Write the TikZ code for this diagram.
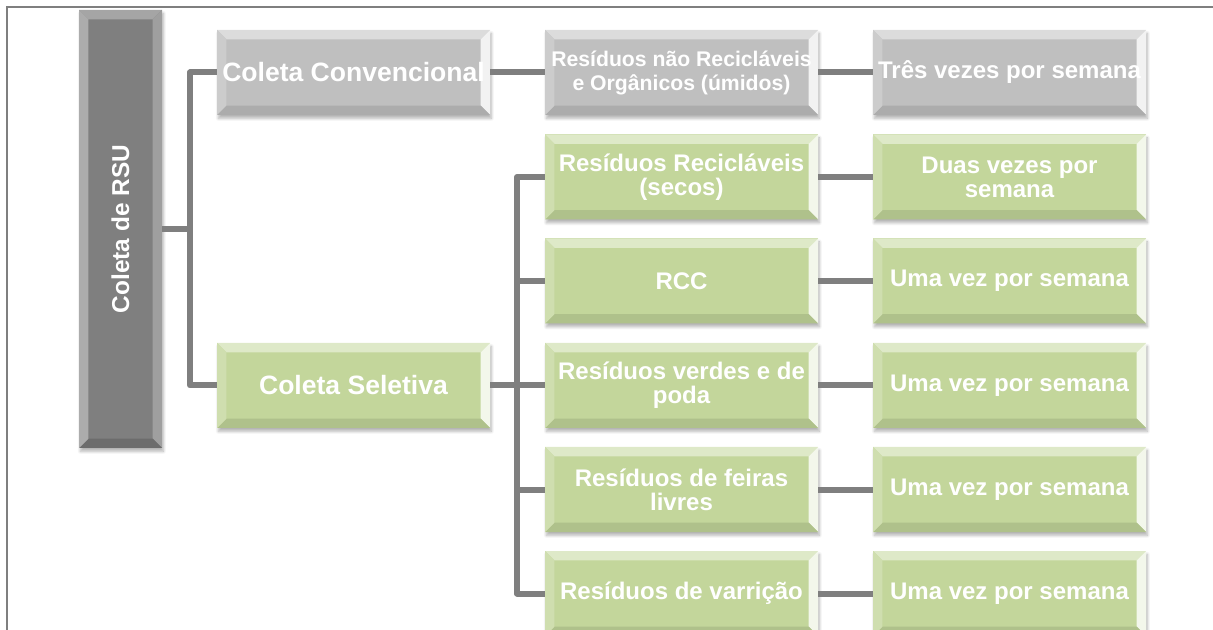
\documentclass[tikz,border=0pt]{standalone}
\usepackage{fontspec}
\setmainfont{Liberation Sans}
\usetikzlibrary{shadows.blur}
\definecolor{rsugray}{HTML}{7F7F7F}
\definecolor{convgray}{HTML}{BFBFBF}
\definecolor{selgreen}{HTML}{C3D69B}
\begin{document}
\begin{tikzpicture}
  [x=0.75pt,y=-0.75pt,
   conn/.style={draw=rsugray,line width=4.5pt,line join=round},
   bevel/.style n args={4}{path picture={
     \coordinate (bsw) at (path picture bounding box.south west);
     \coordinate (bne) at (path picture bounding box.north east);
     \fill[#1] (bne -| bsw) -- (bne) -- ([shift={(-7pt,-7pt)}]bne) -- ([shift={(7pt,-7pt)}]bne -| bsw) -- cycle;
     \fill[#2] (bne) -- (bsw -| bne) -- ([shift={(-7pt,7pt)}]bsw -| bne) -- ([shift={(-7pt,-7pt)}]bne) -- cycle;
     \fill[#3] (bsw -| bne) -- (bsw) -- ([shift={(7pt,7pt)}]bsw) -- ([shift={(-7pt,7pt)}]bsw -| bne) -- cycle;
     \fill[#4] (bsw) -- (bne -| bsw) -- ([shift={(7pt,-7pt)}]bne -| bsw) -- ([shift={(7pt,7pt)}]bsw) -- cycle;}},
   box/.style={rectangle,minimum width=204.75pt,minimum height=63.75pt,inner sep=0pt,
     align=center,text=white,font=\bfseries\fontsize{18}{18}\selectfont,
     blur shadow={shadow xshift=1pt,shadow yshift=-2.5pt,shadow blur steps=8,shadow opacity=30}},
   graybox/.style={box,fill=convgray,bevel={convgray!55!white}{convgray!20!white}{convgray!90!black}{convgray!80!white}},
   greenbox/.style={box,fill=selgreen,bevel={selgreen!55!white}{selgreen!20!white}{selgreen!90!black}{selgreen!80!white}},
   rootbox/.style={box,fill=rsugray,minimum width=62.25pt,minimum height=328.5pt,
     bevel={rsugray!70!white}{rsugray!75!white}{rsugray!85!black}{rsugray!65!white}}]

  \useasboundingbox (0,0) rectangle (1213,630);
  \draw[rsugray,line width=1.1pt] (7,630) -- (7,7) -- (1213,7);

  \node[rootbox] (rsu) at (120.5,229) {};
  \node[rotate=90,text=white,font=\bfseries\fontsize{18.3}{20}\selectfont] (rsutxt) at (rsu) {Coleta de RSU};

  \node[graybox,font=\bfseries\fontsize{19.9}{22}\selectfont] (conv) at (353.5,72.5) {Coleta Convencional};
  \node[greenbox,font=\bfseries\fontsize{19.9}{22}\selectfont] (selet) at (353.5,385.5) {Coleta Seletiva};

  \node[graybox,font=\bfseries\fontsize{15.9}{18}\selectfont] (c1) at (681.5,72.5) {Resíduos não Recicláveis\\e Orgânicos (úmidos)};
  \node[greenbox] (c2) at (681.5,177) {Resíduos Recicláveis\\(secos)};
  \node[greenbox] (c3) at (681.5,281) {RCC};
  \node[greenbox] (c4) at (681.5,385.5) {Resíduos verdes e de\\poda};
  \node[greenbox] (c5) at (681.5,489.5) {Resíduos de feiras\\livres};
  \node[greenbox] (c6) at (681.5,593.5) {Resíduos de varrição};

  \node[graybox] (f1) at (1009.5,72.5) {Três vezes por semana};
  \node[greenbox] (f2) at (1009.5,177) {Duas vezes por\\semana};
  \node[greenbox] (f3) at (1009.5,281) {Uma vez por semana};
  \node[greenbox] (f4) at (1009.5,385.5) {Uma vez por semana};
  \node[greenbox] (f5) at (1009.5,489.5) {Uma vez por semana};
  \node[greenbox] (f6) at (1009.5,593.5) {Uma vez por semana};

  \coordinate (j1) at (190,229);
  \coordinate (j2) at (517,385.5);

  \draw[conn] (rsu.east) -- (j1);
  \draw[conn] (conv.west) -| (j1) |- (selet.west);
  \draw[conn] (conv.east) -- (c1.west);
  \draw[conn] (selet.east) -- (j2);
  \foreach \to in {c2,c3,c4,c5,c6}
    \draw[conn] (j2) |- (\to.west);

  \foreach \from/\to in {c1/f1,c2/f2,c3/f3,c4/f4,c5/f5,c6/f6}
    \draw[conn] (\from.east) -- (\to.west);

\end{tikzpicture}
\end{document}
